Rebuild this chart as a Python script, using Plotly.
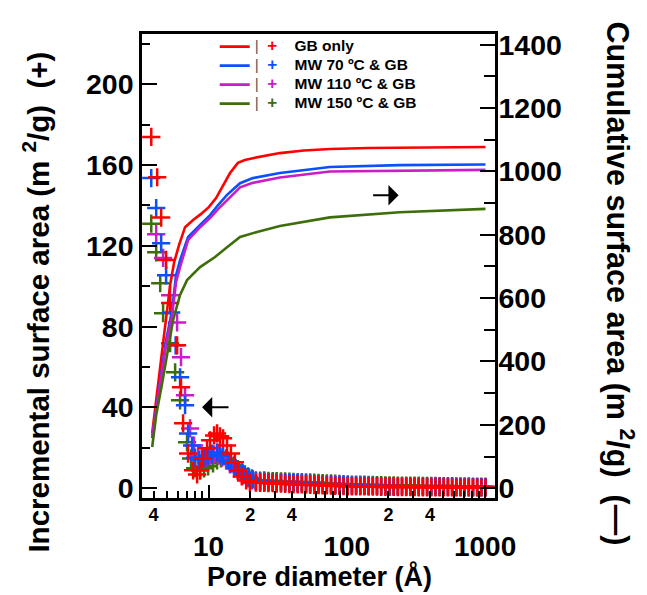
import math
import plotly.graph_objects as go

# ---------------- data ----------------
series_names = ["GB only", "MW 70 ºC & GB", "MW 110 ºC & GB", "MW 150 ºC & GB"]
series_colors = ["#ff0000", "#0a50ff", "#c81ec8", "#3e6e0a"]

# shared pore diameters (Å) of the dense tail of the incremental data
tail_d = [22.0, 23.6, 25.3, 27.1, 29.1, 31.1, 33.4, 35.8, 38.4, 41.1,
          44.1, 47.3, 50.7, 54.3, 58.2, 62.4, 66.9, 71.7, 76.9, 82.4,
          88.4, 94.7, 101.6, 108.9, 116.7, 125.1, 134.1, 143.8, 154.2, 165.3,
          177.2, 189.9, 203.6, 218.3, 234.0, 250.8, 268.9, 288.2, 309.0, 331.2,
          355.1, 380.7, 408.1, 437.4, 468.9, 502.7, 538.9, 577.7, 619.3, 663.9,
          711.7, 762.9, 817.9, 876.7, 939.9, 1007.5]

# incremental surface area (m2/g), small-pore part
inc_gb_d = [3.85, 4.25, 4.54, 4.93, 5.27, 5.92, 6.32, 6.54, 7.11, 7.73, 8.26, 8.68,
            9.12, 9.75, 10.25, 10.96, 11.52, 12.1, 12.73, 13.6, 14.5, 15.5, 16.3,
            17.4, 18.7, 19.9]
inc_gb_v = [174, 154, 134, 113, 91.6, 70.7, 49.9, 32, 17, 8.7, 6.7, 8.7,
            14.6, 19.6, 23.6, 26, 27, 25.6, 24.6, 21, 17, 12.7, 8.7,
            5.7, 3.7, 2.7]
inc_gb_tail = [2.6, 2.5, 2.5, 2.3, 2.3, 2.1, 2.1, 2.0, 1.9, 1.8, 1.8, 1.7,
               1.6, 1.5, 1.4, 1.4, 1.3, 1.2, 1.1, 1.0, 1.0, 0.9, 0.8,
               0.8, 0.7, 0.7, 0.7, 0.6, 0.6, 0.6, 0.5, 0.5, 0.5, 0.5, 0.4, 0.4,
               0.4, 0.4, 0.4, 0.3, 0.3, 0.3, 0.3, 0.3, 0.3, 0.3, 0.2, 0.2, 0.2,
               0.2, 0.2, 0.2, 0.2, 0.2, 0.2, 0.2]

inc_mw70_d = [3.85, 4.18, 4.54, 4.93, 5.36, 5.78, 6.22, 6.76, 7.11, 7.60, 7.99, 8.54,
              8.97, 9.44, 9.92, 10.6, 11.52, 12.1, 12.73, 13.8, 14.5, 15.5, 17.4,
              18.3, 19.6, 20.9]
inc_mw70_v = [153.6, 138.7, 121.3, 105.4, 87, 70.7, 54.8, 41, 27, 21, 15, 14,
              14.6, 15, 16, 17, 17.6, 17, 16, 13.6, 12.2, 10.2, 7.7,
              6.7, 5.2, 4.2]
inc_mw70_tail = [3.3, 3.1, 3.1, 2.9, 2.9, 2.8, 2.7, 2.6, 2.6, 2.5, 2.4, 2.3,
                 2.2, 2.1, 2.0, 1.9, 1.8, 1.7, 1.6, 1.5, 1.4, 1.4, 1.3,
                 1.2, 1.2, 1.1, 1.1, 1.0, 1.0, 1.0, 0.9, 0.9, 0.9, 0.8, 0.8, 0.8,
                 0.8, 0.7, 0.7, 0.7, 0.7, 0.6, 0.6, 0.6, 0.6, 0.5, 0.5, 0.5, 0.5,
                 0.5, 0.4, 0.4, 0.4, 0.4, 0.4, 0.4]

inc_mw110_d = [4.18, 4.69, 5.27, 5.92, 6.32, 6.76, 7.35, 7.85, 8.40, 8.97, 9.59,
               10.25, 10.96, 11.72, 12.52, 13.4, 14.3, 15.3, 16.3, 17.7, 19.3, 20.6]
inc_mw110_v = [125.8, 114, 95.5, 82, 64.8, 45.9, 29.5, 21, 16, 14.6, 15,
               16, 16.6, 16, 15, 13.6, 11.7, 9.7, 8.2, 6.2, 4.7, 3.7]
inc_mw110_tail = [3.1, 3.0, 3.0, 2.8, 2.8, 2.7, 2.6, 2.5, 2.5, 2.4, 2.3, 2.2,
                  2.1, 2.0, 1.9, 1.8, 1.8, 1.7, 1.6, 1.5, 1.4, 1.3, 1.3,
                  1.2, 1.1, 1.1, 1.0, 1.0, 1.0, 0.9, 0.9, 0.9, 0.8, 0.8, 0.8, 0.7,
                  0.7, 0.7, 0.7, 0.6, 0.6, 0.6, 0.6, 0.5, 0.5, 0.5, 0.5, 0.5, 0.4,
                  0.4, 0.4, 0.4, 0.4, 0.4, 0.3, 0.3]

inc_mw150_d = [3.85, 4.18, 4.47, 4.69, 5.27, 5.73, 6.22, 6.99, 7.47, 7.99, 8.68, 9.28,
               9.92, 10.77, 11.52, 12.3, 13.4, 14.3, 15.3, 16.3, 17.7, 19.3, 20.6]
inc_mw150_v = [131, 116.8, 101.5, 86.6, 71.7, 57.3, 43.4, 22.6, 14.6, 9.7, 8.7, 9.7,
               10.7, 12.2, 13.6, 14.6, 14.6, 13.2, 11.2, 9.2, 7.2, 5.7, 4.7]
inc_mw150_tail = [3.8, 3.6, 3.7, 3.5, 3.4, 3.4, 3.2, 3.2, 3.1, 3.0, 2.9, 2.9,
                  2.8, 2.7, 2.6, 2.5, 2.4, 2.3, 2.2, 2.1, 2.0, 1.9, 1.8,
                  1.7, 1.7, 1.6, 1.6, 1.5, 1.5, 1.4, 1.4, 1.3, 1.3, 1.3, 1.2, 1.2,
                  1.2, 1.1, 1.1, 1.1, 1.0, 1.0, 1.0, 1.0, 0.9, 0.9, 0.9, 0.9, 0.8,
                  0.8, 0.8, 0.8, 0.7, 0.7, 0.7, 0.7]

# cumulative surface area (m2/g)
cum_gb_d = [3.91, 4.54, 5.27, 5.64, 6.12, 6.76, 7.73, 8.83, 10.08, 11.33, 12.73, 14.3,
            16.3, 18.3, 20.9, 25.6, 32.8, 48.9, 75.4, 144, 285, 914, 1007]
cum_gb_v = [174, 407, 641, 714, 768, 824, 847, 866, 888, 916, 954, 995,
            1027, 1036, 1042, 1049, 1058, 1066, 1071, 1074, 1075, 1077, 1077]

cum_mw70_d = [3.91, 4.54, 4.93, 5.45, 5.82, 6.22, 7.11, 8.68, 10.25, 11.72, 13.6, 16.9,
              20.9, 32.8, 75.4, 241, 1007]
cum_mw70_v = [158, 357, 467, 562, 673, 720, 793, 831, 862, 894, 926, 963,
              979, 995, 1014, 1020, 1022]

cum_mw110_d = [3.91, 4.54, 4.93, 5.45, 5.82, 6.22, 7.11, 8.68, 10.25, 11.72, 13.6, 16.9,
               20.9, 32.8, 75.4, 241, 1007]
cum_mw110_v = [164, 347, 452, 546, 651, 698, 783, 824, 853, 881, 910, 950,
               964, 981, 1000, 1003, 1005]

cum_mw150_d = [3.91, 4.18, 4.62, 5.10, 5.54, 6.22, 6.99, 8.68, 11.14, 13.6, 16.9, 22.4,
               32.8, 75.4, 241, 1007]
cum_mw150_v = [130, 231, 332, 442, 531, 610, 657, 698, 730, 761, 793, 809,
               828, 855, 871, 882]

# axis ticks / labels
x_decade_vals = [10, 100, 1000]
x_decade_text = ["10", "100", "1000"]
x_small_vals = [4, 20, 40, 200, 400]
x_small_text = ["4", "2", "4", "2", "4"]
x_minor_vals = [4, 5, 6, 7, 8, 9, 20, 30, 40, 50, 60, 70, 80, 90,
                200, 300, 400, 500, 600, 700, 800, 900]
x_range = [3.3, 1180]
y_left_range = [-5, 225]
y_right_range = [-31, 1434]

inc_d = [inc_gb_d + tail_d, inc_mw70_d + tail_d, inc_mw110_d + tail_d, inc_mw150_d + tail_d]
inc_v = [inc_gb_v + inc_gb_tail, inc_mw70_v + inc_mw70_tail,
         inc_mw110_v + inc_mw110_tail, inc_mw150_v + inc_mw150_tail]
cum_d = [cum_gb_d, cum_mw70_d, cum_mw110_d, cum_mw150_d]
cum_v = [cum_gb_v, cum_mw70_v, cum_mw110_v, cum_mw150_v]

FONT = "Liberation Sans"
NB = "\u00a0"

fig = go.Figure()

# cumulative lines (right axis) -> legend entries
for i in range(4):
    label = (f"<span style='font-size:15.5px'>"
             f"<span style='color:#555;font-weight:normal'>|</span>{NB}{NB}"
             f"<span style='color:{series_colors[i]};font-size:17px'>+</span>"
             f"{NB}{NB}{NB}{NB}{series_names[i]}</span>")
    fig.add_trace(go.Scatter(
        x=cum_d[i], y=cum_v[i], mode="lines", name=label,
        line=dict(color=series_colors[i], width=2.6),
        xaxis="x", yaxis="y2", hoverinfo="skip"))

# incremental markers (left axis), drawn green first, red last
for i in [3, 2, 1, 0]:
    fig.add_trace(go.Scatter(
        x=inc_d[i], y=inc_v[i], mode="markers", showlegend=False,
        marker=dict(symbol="cross-thin", size=13, color=series_colors[i],
                    line=dict(color=series_colors[i], width=2.5)),
        xaxis="x", yaxis="y", hoverinfo="skip"))

# empty trace to hold the secondary label axis
fig.add_trace(go.Scatter(x=[], y=[], xaxis="x2", yaxis="y", showlegend=False,
                         hoverinfo="skip"))

lr = [math.log10(x_range[0]), math.log10(x_range[1])]

fig.update_layout(
    width=647, height=595,
    margin=dict(l=142, r=152, t=34, b=97),
    plot_bgcolor="white", paper_bgcolor="white",
    font=dict(family=FONT, color="black"),
    showlegend=True,
    legend=dict(x=0.206, y=1.004, xanchor="left", yanchor="top",
                bgcolor="rgba(0,0,0,0)", borderwidth=0,
                font=dict(family=FONT, size=12, weight="bold", color="black"),
                tracegroupgap=0, itemwidth=30),
    xaxis=dict(type="log", range=lr, showline=True, linecolor="black", linewidth=2.5,
               mirror=True, ticks="inside", ticklen=13, tickwidth=2, tickcolor="black",
               tickvals=x_decade_vals, ticktext=x_decade_text,
               tickfont=dict(family=FONT, size=28, weight="bold"),
               ticklabelstandoff=22,
               minor=dict(tickvals=x_minor_vals, ticks="inside", ticklen=7, tickwidth=2,
                          tickcolor="black", showgrid=False),
               showgrid=False, zeroline=False),
    xaxis2=dict(type="log", range=lr, overlaying="x", anchor="y", side="bottom",
                showline=False, ticks="", tickvals=x_small_vals, ticktext=x_small_text,
                tickfont=dict(family=FONT, size=18, weight="bold"),
                ticklabelstandoff=4, showgrid=False, zeroline=False),
    yaxis=dict(range=y_left_range, showline=True, linecolor="black", linewidth=2.5,
               ticks="inside", ticklen=15, tickwidth=2, tickcolor="black",
               tick0=0, dtick=40,
               tickfont=dict(family=FONT, size=28.5, weight="bold"),
               minor=dict(ticks="inside", ticklen=8, tickwidth=2, dtick=20, tick0=0,
                          tickcolor="black", showgrid=False),
               showgrid=False, zeroline=False),
    yaxis2=dict(range=y_right_range, overlaying="y", side="right", anchor="x",
                showline=True, linecolor="black", linewidth=2.5,
                ticks="inside", ticklen=15, tickwidth=2, tickcolor="black",
                tick0=0, dtick=200,
                tickfont=dict(family=FONT, size=28.5, weight="bold"),
                ticklabelstandoff=-5,
                minor=dict(ticks="inside", ticklen=11, tickwidth=2, dtick=100, tick0=0,
                           tickcolor="black", showgrid=False),
                showgrid=False, zeroline=False),
    annotations=[
        dict(text="Incremental surface area (m" + NB + "<sup>2</sup>/g)" + NB + NB + "(+)",
             xref="paper", yref="paper", x=-0.302, y=0.422, textangle=-90,
             xanchor="center", yanchor="middle", showarrow=False,
             font=dict(family=FONT, size=29.5, weight="bold")),
        dict(text="Cumulative surface area (m" + NB + "<sup>2</sup>/g)" + NB + NB + "(—)",
             xref="paper", yref="paper", x=1.353, y=0.463, textangle=90,
             xanchor="center", yanchor="middle", showarrow=False,
             font=dict(family=FONT, size=30.5, weight="bold")),
        dict(text="Pore diameter (Å)",
             xref="paper", yref="paper", x=0.503, y=-0.170,
             xanchor="center", yanchor="middle", showarrow=False,
             font=dict(family=FONT, size=27, weight="bold")),
        dict(text="", xref="x", yref="y", x=math.log10(8.97), y=40,
             ax=28, ay=0, showarrow=True, arrowhead=1, arrowsize=1.7,
             arrowwidth=2, arrowcolor="black", standoff=0),
        dict(text="", xref="x", yref="y2", x=math.log10(237), y=925,
             ax=-27, ay=0, showarrow=True, arrowhead=1, arrowsize=1.7,
             arrowwidth=2, arrowcolor="black", standoff=0),
    ],
)

fig.write_html("out.html")
